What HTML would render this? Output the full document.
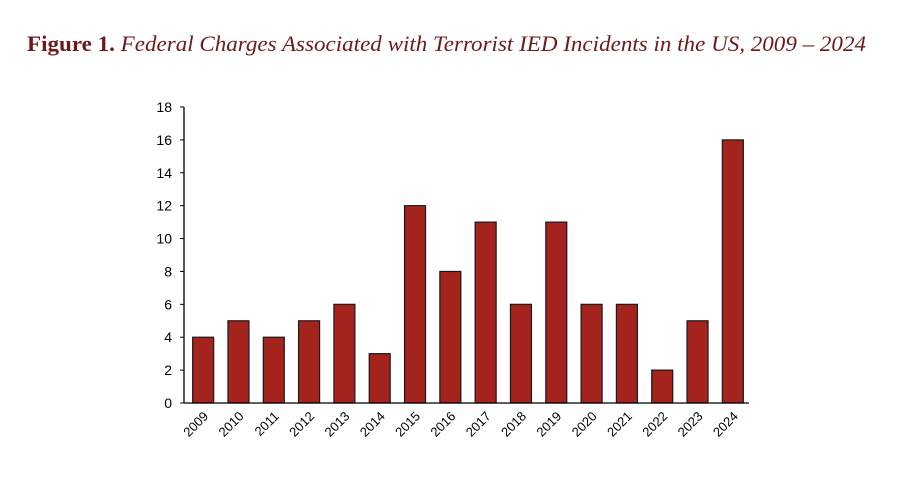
<!DOCTYPE html>
<html><head><meta charset="utf-8"><style>
html,body{margin:0;padding:0;background:#fff;width:900px;height:494px;overflow:hidden}
</style></head><body>
<svg id="chart" width="900" height="494" xmlns="http://www.w3.org/2000/svg" font-family="Liberation Sans, Arial, sans-serif">
<text x="27" y="51" font-family="Liberation Serif, serif" font-size="22" fill="#6e1a1a" textLength="839" lengthAdjust="spacingAndGlyphs"><tspan font-weight="bold">Figure 1.</tspan><tspan font-style="italic"> Federal Charges Associated with Terrorist IED Incidents in the US, 2009 – 2024</tspan></text>
<g id="plot"></g>
</svg>
<script>
const categories=["2009","2010","2011","2012","2013","2014","2015","2016","2017","2018","2019","2020","2021","2022","2023","2024"];
const values=[4,5,4,5,6,3,12,8,11,6,11,6,6,2,5,16];
const yTicks=[0,2,4,6,8,10,12,14,16,18];
const NS="http://www.w3.org/2000/svg";
const g=document.getElementById('plot');
const x0=184,x1=749,yTop=107,yBot=403,yMax=18;
const band=(x1-x0)/categories.length;
function xC(i){return x0+band*(i+0.5)+1.5;}
function yS(v){return yBot-(v/yMax)*(yBot-yTop);}
function mk(t,a){const e=document.createElementNS(NS,t);for(const k in a)e.setAttribute(k,a[k]);g.appendChild(e);return e;}
values.forEach((v,i)=>{
 const r=mk('rect',{x:xC(i)-10.5,y:yS(v),width:21,height:yBot-yS(v),fill:'#a4231c',stroke:'#1a1a1a','stroke-width':1.2});
 
 
});
const ya=mk('line',{x1:x0,y1:yTop,x2:x0,y2:yBot,stroke:'#000','stroke-width':1.3});


const xa=mk('line',{x1:x0,y1:yBot,x2:x1,y2:yBot,stroke:'#000','stroke-width':1.3});


yTicks.forEach(t=>{
 mk('line',{x1:x0-4,y1:yS(t),x2:x0,y2:yS(t),stroke:'#000','stroke-width':1});
 const tx=mk('text',{x:x0-12,y:yS(t)+5,'text-anchor':'end','font-size':14,fill:'#000'});
 tx.textContent=t;
 
 
});
categories.forEach((c,i)=>{
 const x=xC(i)+6,y=yBot+14;
 const tx=mk('text',{x:x,y:y,'text-anchor':'end','font-size':13,fill:'#000',transform:`rotate(-45 ${x} ${y})`});
 tx.textContent=c;
 
 
});
</script>
</body></html>
